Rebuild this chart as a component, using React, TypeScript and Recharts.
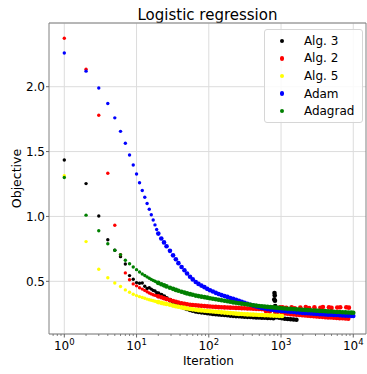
import React from "react";
import {
  ScatterChart,
  Scatter,
  XAxis,
  YAxis,
  CartesianGrid,
  Legend,
  ReferenceArea,
} from "recharts";

// iteration grid (every step up to 19, then roughly log-spaced)
const ITERATIONS = [
  1, 2, 3, 4, 5, 6, 7, 8, 9, 10, 11, 12, 13, 14, 15, 16, 17, 18, 19,
  20, 22, 24, 26, 29, 32, 35, 38, 42, 46, 50, 55, 60, 66, 72, 79, 87, 95,
  104, 114, 125, 137, 150, 165, 181, 198, 217, 238, 261, 286, 313, 343, 376, 412, 452, 495, 543, 595, 652, 715, 784, 859, 942,
  1032, 1131, 1240, 1359, 1490, 1633, 1790, 1962, 2150, 2357, 2584, 2832, 3104, 3402, 3729, 4087, 4480, 4911, 5383, 5900, 6467, 7088, 7769, 8516, 9334, 10000,
];

const ALG3 = [
  1.435, 1.253, 1.004, 0.82, 0.74, 0.69, 0.634, 0.544, 0.516, 0.49, 0.485, 0.487, 0.462, 0.445, 0.45, 0.44, 0.43, 0.425, 0.412,
  0.405, 0.395, 0.383, 0.37, 0.355, 0.342, 0.33, 0.318, 0.305, 0.295, 0.287, 0.279, 0.273, 0.268, 0.264, 0.261, 0.258, 0.255,
  0.252, 0.249, 0.247, 0.244, 0.242, 0.24, 0.238, 0.236, 0.234, 0.232, 0.231, 0.229, 0.227, 0.226, 0.225, 0.223, 0.222, 0.221, 0.22, 0.219, 0.218, 0.217, 0.216, 0.224, 0.219,
  0.215, 0.212, 0.21, 0.208, 0.206, 0.204, null, null, null, null, null, null, null, null, null, null, null, null, null, null, null, null, null, null, null, null,
];
const ALG3_SPIKE_ITER = [800, 806, 812, 818, 824, 830, 836, 842, 850];
const ALG3_SPIKE_OBJ = [0.3, 0.36, 0.41, 0.39, 0.35, 0.31, 0.28, 0.25, 0.23];

const ALG2 = [
  2.373, 2.134, 1.78, 1.333, 0.932, 0.705, 0.565, 0.512, 0.48, 0.465, 0.45, 0.44, 0.43, 0.42, 0.41, 0.403, 0.397, 0.392, 0.388,
  0.384, 0.377, 0.37, 0.363, 0.355, 0.348, 0.342, 0.336, 0.331, 0.327, 0.323, 0.32, 0.317, 0.315, 0.313, 0.311, 0.309, 0.307,
  0.306, 0.304, 0.303, 0.301, 0.3, 0.299, 0.298, 0.297, 0.296, 0.295, 0.294, 0.293, 0.292, 0.291, 0.29, 0.289, 0.288, 0.287, 0.286, 0.285, 0.284, 0.283, 0.282, 0.281, 0.28,
  0.255, 0.252, 0.25, 0.247, 0.245, 0.243, 0.241, 0.239, 0.237, 0.235, 0.233, 0.231, 0.229, 0.227, 0.226, 0.224, 0.222, 0.221, 0.219, 0.218, 0.216, 0.215, 0.213, 0.212, null, null,
];
// scattered Alg. 2 values in its noisy tail
const ALG2_SPREAD_ITER = [620, 700, 760, 830, 900, 970, 1050, 1100, 1180, 1260, 1400, 1500, 1550, 1700, 1850, 2000, 2200, 2450, 2700, 2900, 3200, 3500, 3800, 4200, 4600, 5000, 5500, 6000, 6600, 7300, 8000, 8700];
const ALG2_SPREAD_OBJ = [0.27, 0.268, 0.295, 0.265, 0.262, 0.3, 0.3, 0.272, 0.295, 0.268, 0.3, 0.266, 0.292, 0.264, 0.298, 0.262, 0.302, 0.294, 0.26, 0.3, 0.258, 0.296, 0.302, 0.256, 0.3, 0.295, 0.254, 0.298, 0.3, 0.252, 0.3, 0.297];

const ALG5 = [
  1.314, 0.806, 0.593, 0.528, 0.487, 0.46, 0.434, 0.416, 0.4, 0.39, 0.382, 0.375, 0.369, 0.363, 0.358, 0.354, 0.35, 0.346, 0.343,
  0.34, 0.334, 0.329, 0.325, 0.319, 0.313, 0.308, 0.304, 0.299, 0.295, 0.291, 0.287, 0.284, 0.281, 0.278, 0.276, 0.273, 0.271,
  0.269, 0.267, 0.265, 0.263, 0.261, 0.259, 0.257, 0.255, 0.253, 0.251, 0.249, 0.248, 0.246, 0.245, 0.244, 0.243, 0.242, 0.241, 0.24, 0.239, 0.238, 0.237, 0.236, 0.235, 0.234,
  0.233, null, null, null, null, null, null, null, null, null, null, null, null, null, null, null, null, null, null, null, null, null, null, null, null, null,
];

const ADAM = [
  2.26, 2.12, 1.99, 1.87, 1.76, 1.656, 1.564, 1.474, 1.397, 1.327, 1.26, 1.2, 1.148, 1.1, 1.055, 1.013, 0.973, 0.935, 0.9,
  0.868, 0.83, 0.8, 0.77, 0.735, 0.7, 0.67, 0.64, 0.61, 0.585, 0.56, 0.535, 0.515, 0.495, 0.48, 0.467, 0.455, 0.442,
  0.431, 0.421, 0.411, 0.402, 0.394, 0.387, 0.38, 0.372, 0.365, 0.357, 0.35, 0.342, 0.335, 0.327, 0.32, 0.313, 0.306, 0.3, 0.295, 0.29, 0.286, 0.282, 0.279, 0.276, 0.274,
  0.272, 0.27, 0.267, 0.265, 0.263, 0.261, 0.259, 0.257, 0.255, 0.254, 0.252, 0.25, 0.249, 0.247, 0.246, 0.245, 0.243, 0.242, 0.241, 0.24, 0.239, 0.237, 0.236, 0.235, 0.234, 0.233,
];

const ADAGRAD = [
  1.3, 1.01, 0.89, 0.79, 0.74, 0.705, 0.662, 0.635, 0.61, 0.59, 0.572, 0.557, 0.545, 0.534, 0.524, 0.515, 0.507, 0.5, 0.494,
  0.488, 0.478, 0.469, 0.461, 0.451, 0.442, 0.434, 0.427, 0.42, 0.413, 0.407, 0.401, 0.396, 0.39, 0.386, 0.382, 0.378, 0.374,
  0.37, 0.366, 0.362, 0.358, 0.354, 0.35, 0.346, 0.342, 0.338, 0.335, 0.331, 0.328, 0.325, 0.322, 0.319, 0.316, 0.313, 0.31, 0.308, 0.305, 0.303, 0.301, 0.299, 0.297, 0.295,
  0.293, 0.291, 0.289, 0.288, 0.286, 0.284, 0.283, 0.281, 0.28, 0.278, 0.277, 0.275, 0.274, 0.272, 0.271, 0.27, 0.268, 0.267, 0.266, 0.264, 0.263, 0.262, 0.261, 0.26, 0.259, 0.258,
];

const X_MAJOR = [1, 10, 100, 1000, 10000];
const X_MAJOR_EXP = ["0", "1", "2", "3", "4"];
const X_MINOR = [
  0.7, 0.8, 0.9, 2, 3, 4, 5, 6, 7, 8, 9, 20, 30, 40, 50, 60, 70, 80, 90,
  200, 300, 400, 500, 600, 700, 800, 900, 2000, 3000, 4000, 5000, 6000, 7000, 8000, 9000,
];
const Y_TICKS = [0.5, 1.0, 1.5, 2.0];

const X_DOMAIN = [0.614, 15000];
const Y_DOMAIN = [0.094, 2.491];

const FONT = '"DejaVu Sans", Verdana, sans-serif';

type Pt = { x: number; y: number };

function toPoints(values: (number | null)[]): Pt[] {
  const out: Pt[] = [];
  ITERATIONS.forEach((x, i) => {
    const y = values[i];
    if (y !== null && y !== undefined) out.push({ x, y });
  });
  return out;
}

function zipPoints(xs: number[], ys: number[]): Pt[] {
  return xs.map((x, i) => ({ x, y: ys[i] }));
}

const SERIES = [
  { name: "Alg. 3", color: "#000000", data: [...toPoints(ALG3), ...zipPoints(ALG3_SPIKE_ITER, ALG3_SPIKE_OBJ)] },
  { name: "Alg. 2", color: "#ff0000", data: [...toPoints(ALG2), ...zipPoints(ALG2_SPREAD_ITER, ALG2_SPREAD_OBJ)] },
  { name: "Alg. 5", color: "#ffff00", data: toPoints(ALG5) },
  { name: "Adam", color: "#0000ff", data: toPoints(ADAM) },
  { name: "Adagrad", color: "#008000", data: toPoints(ADAGRAD) },
];

const makeDot = (color: string) => (props: any) => {
  const { cx, cy, payload } = props;
  if (cx == null || cy == null) return <g />;
  const r = payload && payload.x < 20 ? 1.7 : 2.3;
  return <circle cx={cx} cy={cy} r={r} fill={color} />;
};

function XTick(props: any) {
  const { x, y, payload } = props;
  const idx = X_MAJOR.indexOf(payload.value);
  if (idx < 0) {
    return <line x1={x} x2={x} y1={y} y2={y + 2} stroke="#666" strokeWidth={0.8} />;
  }
  return (
    <g>
      <line x1={x} x2={x} y1={y} y2={y + 3.5} stroke="#666" strokeWidth={1} />
      <text x={x} y={y + 15.5} textAnchor="middle" fontSize={12} fill="#000" fontFamily={FONT}>
        <tspan>10</tspan>
        <tspan dy={-5} fontSize={8.5}>
          {X_MAJOR_EXP[idx]}
        </tspan>
      </text>
    </g>
  );
}

function renderLegend() {
  return (
    <div
      style={{
        boxSizing: "border-box",
        width: 99,
        height: 94,
        border: "1px solid #d6d6d6",
        borderRadius: 3,
        background: "rgba(255,255,255,0.85)",
        paddingTop: 2,
        fontFamily: FONT,
        fontSize: 12,
        color: "#000",
      }}
    >
      {SERIES.map((s) => (
        <div key={s.name} style={{ height: 17.6, display: "flex", alignItems: "center" }}>
          <span
            style={{
              display: "inline-block",
              width: 4.4,
              height: 4.4,
              borderRadius: "50%",
              background: s.color,
              marginLeft: 14.5,
              marginRight: 20,
            }}
          />
          <span>{s.name}</span>
        </div>
      ))}
    </div>
  );
}

export default function App() {
  return (
    <div
      style={{
        position: "absolute",
        left: 0,
        top: 0,
        width: 367,
        height: 374,
        background: "#fff",
        fontFamily: FONT,
      }}
    >
      <ScatterChart width={367} height={374} margin={{ top: 23, right: 1, bottom: 0, left: 0 }}>
        <CartesianGrid stroke="#dcdcdc" strokeWidth={1} verticalValues={X_MAJOR} />
        <XAxis
          type="number"
          dataKey="x"
          scale="log"
          domain={X_DOMAIN}
          allowDataOverflow
          ticks={[...X_MINOR, ...X_MAJOR]}
          interval={0}
          tick={<XTick />}
          tickLine={false}
          tickSize={0}
          tickMargin={0}
          axisLine={false}
          height={40}
        />
        <YAxis
          type="number"
          dataKey="y"
          domain={Y_DOMAIN}
          allowDataOverflow
          ticks={Y_TICKS}
          interval={0}
          tickFormatter={(v: number) => v.toFixed(1)}
          tick={{ fontSize: 12, fill: "#000", fontFamily: FONT }}
          tickLine={{ stroke: "#666" }}
          tickSize={3}
          tickMargin={1}
          axisLine={false}
          width={49}
        />
        <ReferenceArea
          x1={X_DOMAIN[0]}
          x2={X_DOMAIN[1]}
          y1={Y_DOMAIN[0]}
          y2={Y_DOMAIN[1]}
          fill="none"
          stroke="#808080"
          strokeWidth={1}
          ifOverflow="visible"
        />
        {SERIES.map((s) => (
          <Scatter
            key={s.name}
            name={s.name}
            data={s.data}
            fill={s.color}
            shape={makeDot(s.color)}
            isAnimationActive={false}
          />
        ))}
        <Legend
          layout="horizontal"
          verticalAlign="middle"
          align="center"
          content={renderLegend}
          wrapperStyle={{ position: "absolute", top: 29, left: 264, width: 99, height: 94 }}
        />
        <text x={207.5} y={20} textAnchor="middle" fontSize={15} fill="#000" fontFamily={FONT}>
          Logistic regression
        </text>
        <text x={208.5} y={365} textAnchor="middle" fontSize={12} fill="#000" fontFamily={FONT}>
          Iteration
        </text>
        <text
          x={20.5}
          y={178.5}
          textAnchor="middle"
          fontSize={12.5}
          fill="#000"
          fontFamily={FONT}
          transform="rotate(-90, 20.5, 178.5)"
        >
          Objective
        </text>
      </ScatterChart>
    </div>
  );
}
